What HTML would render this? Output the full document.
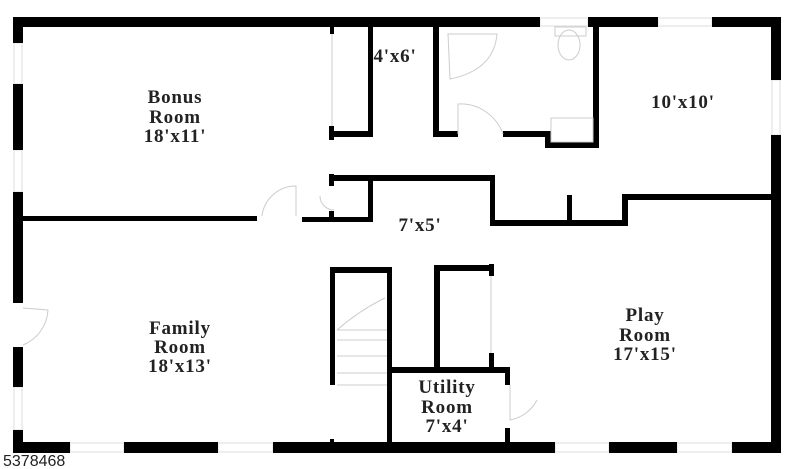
<!DOCTYPE html>
<html><head><meta charset="utf-8"><style>
html,body{margin:0;padding:0;background:#fff;width:800px;height:469px;overflow:hidden}
svg{display:block}
.t{font-family:"Liberation Serif",serif;font-weight:bold;font-size:19px;letter-spacing:0.8px;fill:#222;text-anchor:middle}
</style></head><body>
<svg width="800" height="469" viewBox="0 0 800 469" xmlns="http://www.w3.org/2000/svg">
<g fill="none" stroke="#ddd" stroke-width="1">
<rect x="540" y="18" width="48" height="8"/>
<rect x="658" y="18" width="54" height="8"/>
<rect x="772" y="80" width="8" height="55"/>
<rect x="14" y="43" width="8" height="41"/>
<rect x="14" y="150" width="8" height="42"/>
<rect x="14" y="387" width="8" height="43"/>
<rect x="70" y="443" width="54" height="9"/>
<rect x="218" y="443" width="55" height="9"/>
<rect x="555" y="443" width="54" height="9"/>
<rect x="677" y="443" width="55" height="9"/>
</g>
<g fill="#000">
<rect x="13" y="17" width="527" height="10"/>
<rect x="588" y="17" width="70" height="10"/>
<rect x="712" y="17" width="69" height="10"/>
<rect x="771" y="17" width="10" height="63"/>
<rect x="771" y="135" width="10" height="318"/>
<rect x="13" y="17" width="10" height="26"/>
<rect x="13" y="84" width="10" height="66"/>
<rect x="13" y="192" width="10" height="111"/>
<rect x="13" y="347" width="10" height="40"/>
<rect x="13" y="430" width="10" height="23"/>
<rect x="13" y="442" width="57" height="11"/>
<rect x="124" y="442" width="94" height="11"/>
<rect x="273" y="442" width="282" height="11"/>
<rect x="609" y="442" width="68" height="11"/>
<rect x="732" y="442" width="49" height="11"/>
<rect x="23" y="216" width="234" height="5"/>
<rect x="302" y="217" width="71" height="5"/>
<rect x="330" y="27" width="4" height="7"/>
<rect x="329" y="126" width="5" height="14"/>
<rect x="334" y="131" width="39" height="6"/>
<rect x="368" y="27" width="5" height="110"/>
<rect x="433" y="27" width="6" height="110"/>
<rect x="433" y="131" width="25" height="6"/>
<rect x="503" y="131" width="48" height="6"/>
<rect x="545" y="131" width="6" height="17"/>
<rect x="545" y="142" width="54" height="6"/>
<rect x="593" y="17" width="6" height="131"/>
<rect x="329" y="174" width="5" height="12"/>
<rect x="329" y="211" width="5" height="11"/>
<rect x="330" y="175" width="165" height="6"/>
<rect x="368" y="175" width="5" height="47"/>
<rect x="490" y="175" width="5" height="51"/>
<rect x="490" y="220" width="138" height="6"/>
<rect x="567" y="195" width="5" height="30"/>
<rect x="622" y="194" width="6" height="32"/>
<rect x="622" y="194" width="151" height="6"/>
<rect x="330" y="267" width="5" height="118"/>
<rect x="330" y="267" width="62" height="6"/>
<rect x="387" y="267" width="5" height="186"/>
<rect x="330" y="439" width="4" height="5"/>
<rect x="434" y="265" width="6" height="103"/>
<rect x="434" y="265" width="60" height="6"/>
<rect x="489" y="264" width="5" height="12"/>
<rect x="489" y="353" width="5" height="15"/>
<rect x="387" y="367" width="123" height="6"/>
<rect x="505" y="367" width="5" height="18"/>
<rect x="505" y="428" width="5" height="25"/>
</g>
<g fill="none" stroke="#ccc" stroke-width="1">
<path d="M262 216 A34 34 0 0 1 296 186 L296 216"/>
<path d="M334 210 A14 14 0 0 1 320 196"/>
<path d="M458 134 L458 104 A45 45 0 0 1 503 134"/>
<path d="M510 385 L510 420 A38 38 0 0 0 537 400"/>
<path d="M23 308 L48 310 A40 40 0 0 1 23 345"/>
<path d="M448 34 L497 34 Q494 70 450 79 Z"/>
<ellipse cx="569" cy="45" rx="11" ry="15"/>
<rect x="555" y="27" width="31" height="9"/>
<rect x="551" y="118" width="42" height="24"/>
<path d="M337 385 L387 385 M337 373 L387 373 M337 356 L387 356 M337 340 L387 340 M337 330 L387 330 M337 330 Q360 310 385 298"/>
<line x1="491" y1="276" x2="491" y2="353"/>
<line x1="332" y1="34" x2="332" y2="126"/>
</g>
<text class="t" x="175" y="103">Bonus</text>
<text class="t" x="175" y="123">Room</text>
<text class="t" x="175" y="142">18'x11'</text>
<text class="t" x="180" y="334">Family</text>
<text class="t" x="180" y="353">Room</text>
<text class="t" x="180" y="372">18'x13'</text>
<text class="t" x="645" y="321">Play</text>
<text class="t" x="645" y="341">Room</text>
<text class="t" x="645" y="360">17'x15'</text>
<text class="t" x="447" y="393">Utility</text>
<text class="t" x="447" y="413">Room</text>
<text class="t" x="447" y="432">7'x4'</text>
<text class="t" x="395" y="62">4'x6'</text>
<text class="t" x="683" y="108">10'x10'</text>
<text class="t" x="420" y="231">7'x5'</text>
<text x="3" y="466" font-family="Liberation Sans,sans-serif" font-size="16" fill="#222">5378468</text>
</svg>
</body></html>
